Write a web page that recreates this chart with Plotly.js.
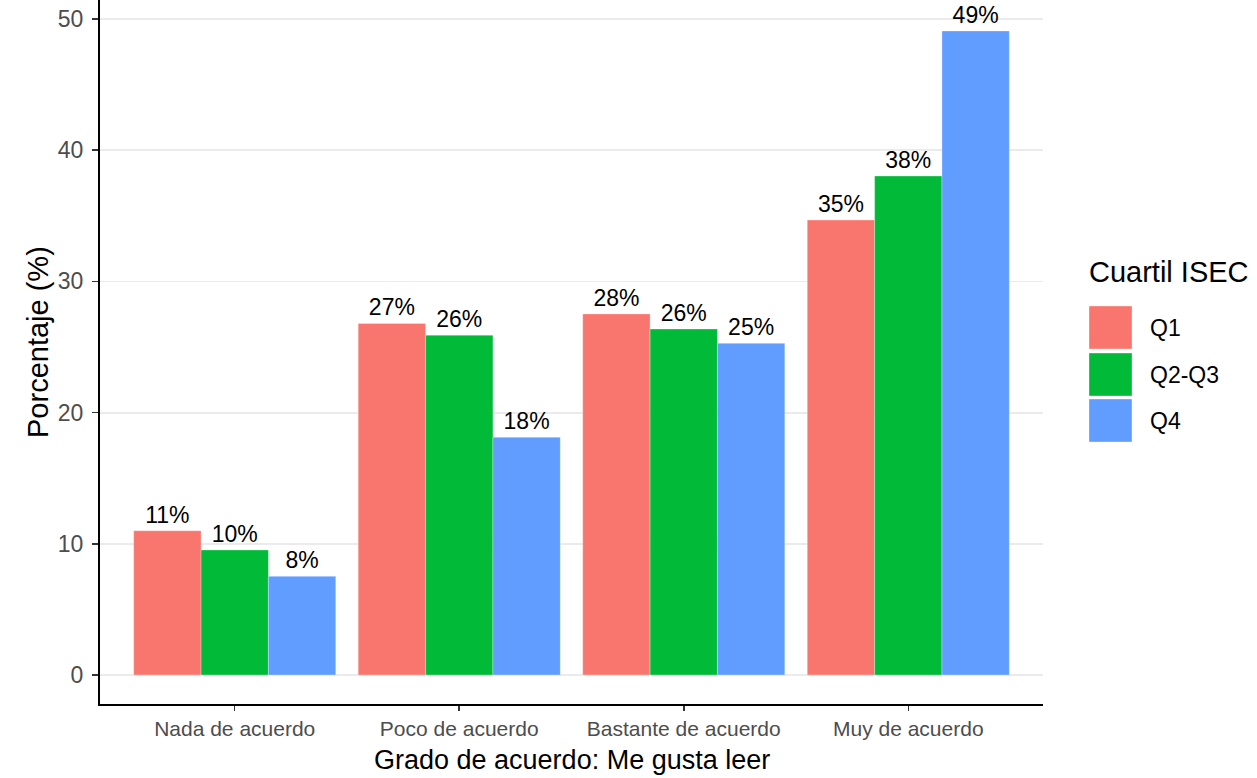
<!DOCTYPE html>
<html>
<head>
<meta charset="utf-8">
<script src="https://cdn.plot.ly/plotly-3.0.1.min.js"></script>
<style>html,body{margin:0;padding:0;background:#fff;}#chart{width:1257px;height:778px;}</style>
</head>
<body>
<div id="chart"></div>
<script>
const categories = ["Nada de acuerdo", "Poco de acuerdo", "Bastante de acuerdo", "Muy de acuerdo"];
const seriesNames = ["Q1", "Q2-Q3", "Q4"];
const q1 = [11.0, 26.8, 27.52, 34.68];
const q2q3 = [9.53, 25.9, 26.37, 38.03];
const q4 = [7.52, 18.12, 25.28, 49.09];
const colors = ["#F8766D", "#00BA38", "#619CFF"];
const yTicks = [0, 10, 20, 30, 40, 50];
const legendTitle = "Cuartil ISEC";
const xTitle = "Grado de acuerdo: Me gusta leer";
const yTitle = "Porcentaje (%)";

const FONT = "'Liberation Sans', Arial, sans-serif";
const values = [q1, q2q3, q4];

const traces = seriesNames.map((name, i) => ({
  type: "bar",
  name: name,
  x: categories,
  y: values[i],
  marker: { color: colors[i], line: { width: 0.6, color: "rgba(255,255,255,0.5)" } },
  texttemplate: "%{y:.0f}%",
  textposition: "outside",
  outsidetextfont: { family: FONT, size: 23, color: "#000" },
  constraintext: "none",
  cliponaxis: false,
  hoverinfo: "skip",
  showlegend: false
}));

const shapes = [];
const annotations = [];
const keyX0 = 1089, keyX1 = 1132;
const keyTops = [306, 353, 399];
const H = 778, W = 1257;
const mL = 100, mR = 214, mT = 0, mB = 74;
const pw = W - mL - mR, ph = H - mT - mB;
function px2x(px) { return (px - mL) / pw; }
function py2y(py) { return (H - mB - py) / ph; }

seriesNames.forEach((name, i) => {
  shapes.push({
    type: "rect", xref: "paper", yref: "paper",
    x0: px2x(keyX0), x1: px2x(keyX1),
    y0: py2y(keyTops[i] + 43), y1: py2y(keyTops[i]),
    fillcolor: colors[i], line: { width: 0.6, color: "rgba(255,255,255,0.6)" }
  });
  annotations.push({
    xref: "paper", yref: "paper", x: px2x(1148), y: py2y(keyTops[i] + 21.5),
    xanchor: "left", yanchor: "middle", showarrow: false,
    text: name, font: { family: FONT, size: 23, color: "#000" }
  });
});
annotations.push({
  xref: "paper", yref: "paper", x: px2x(1087), y: py2y(272),
  xanchor: "left", yanchor: "middle", showarrow: false,
  text: legendTitle, font: { family: FONT, size: 29, color: "#000" }
});
annotations.push({
  xref: "paper", yref: "paper", x: 0.5, y: py2y(777),
  xanchor: "center", yanchor: "bottom", showarrow: false,
  text: xTitle, font: { family: FONT, size: 27, color: "#000" }
});
annotations.push({
  xref: "paper", yref: "paper", x: px2x(38), y: py2y(342),
  xanchor: "center", yanchor: "middle", showarrow: false, textangle: -90,
  text: yTitle, font: { family: FONT, size: 29, color: "#000" }
});

const layout = {
  width: W, height: H,
  margin: { l: mL, r: mR, t: mT, b: mB, pad: 0 },
  paper_bgcolor: "#fff", plot_bgcolor: "#fff",
  font: { family: FONT, color: "#000" },
  barmode: "group", bargap: 0.1, bargroupgap: 0,
  showlegend: false,
  xaxis: {
    type: "category",
    range: [-0.6, 3.6],
    showgrid: false, zeroline: false,
    showline: true, linecolor: "#000", linewidth: 2,
    ticks: "outside", ticklen: 5, tickwidth: 1.5, tickcolor: "#333",
    tickfont: { family: FONT, size: 21, color: "#4d4d4d" },
    fixedrange: true
  },
  yaxis: {
    range: [-2.21, 51.45],
    tickvals: yTicks,
    ticktext: yTicks.map(String),
    showgrid: true, gridcolor: "#ebebeb", gridwidth: 1.8,
    zeroline: false,
    showline: true, linecolor: "#000", linewidth: 2,
    ticks: "outside", ticklen: 6, tickwidth: 1.5, tickcolor: "#333",
    ticklabelstandoff: 4,
    tickfont: { family: FONT, size: 23, color: "#4d4d4d" },
    fixedrange: true
  },
  shapes: shapes,
  annotations: annotations
};

Plotly.newPlot("chart", traces, layout, { staticPlot: true, displayModeBar: false });
</script>
</body>
</html>
